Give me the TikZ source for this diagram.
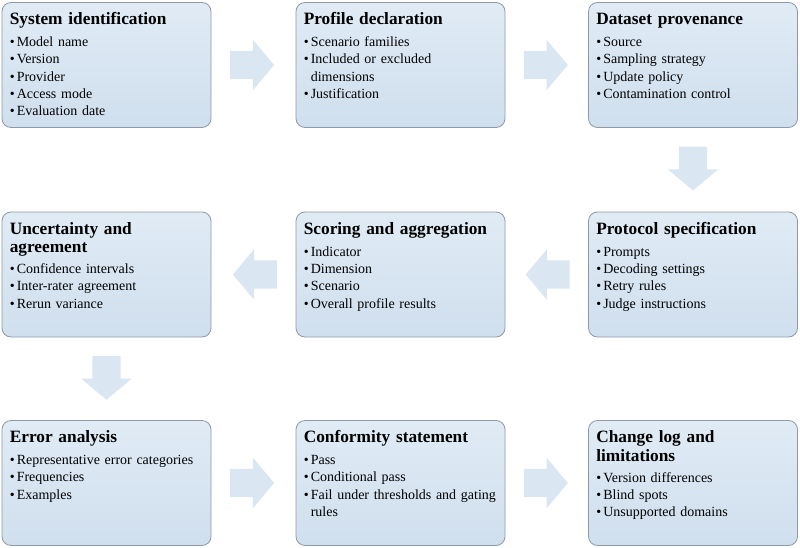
\documentclass[tikz,border=0pt]{standalone}
\usepackage{fontspec}
\setmainfont{Liberation Serif}
\usetikzlibrary{shapes.arrows}
\definecolor{boxtop}{HTML}{E0EBF5}
\definecolor{boxbot}{HTML}{D0DFEE}
\definecolor{boxedge}{HTML}{8E9AA8}
\definecolor{arrowfill}{HTML}{DAE6F2}
\newcommand{\bul}{\makebox[7pt][l]{\textbullet}}
\tikzset{
  stagebox/.style={draw=boxedge, line width=0.8pt, rounded corners=9pt, top color=boxtop, bottom color=boxbot,
    minimum width=209pt, minimum height=125pt, inner sep=0pt},
  stagetitle/.style={anchor=base west, inner sep=0pt, text width=200pt, align=left,
    font=\fontsize{17.3}{18.5}\selectfont\bfseries},
  stagelist/.style={anchor=base west, inner sep=0pt, text width=200pt, align=left,
    font=\fontsize{14}{17.3}\selectfont},
  blockarrow/.style={single arrow, fill=arrowfill, draw=none, inner xsep=0pt, inner ysep=14pt,
    single arrow head extend=11pt, single arrow tip angle=100, minimum height=44pt, anchor=tail, pos=0.22}
}
\begin{document}
\begin{tikzpicture}[x=1pt, y=-1pt]
  \useasboundingbox (0,0) rectangle (800,548);
  % row 1
  \node[stagebox] (sys) at (106.5,65) {};
  \node[stagebox] (prof) at (400.5,65) {};
  \node[stagebox] (data) at (693,65) {};
  % row 2
  \node[stagebox] (unc) at (106.5,274.5) {};
  \node[stagebox] (score) at (400.5,274.5) {};
  \node[stagebox] (proto) at (693,274.5) {};
  % row 3
  \node[stagebox] (err) at (106.5,483) {};
  \node[stagebox] (conf) at (400.5,483) {};
  \node[stagebox] (log) at (693,483) {};

  \node[stagetitle] at ([xshift=8pt,yshift=-22.5pt]sys.north west) {System identification};
  \node[stagelist] at ([xshift=8pt,yshift=-44.5pt]sys.north west) {\bul Model name\\ \bul Version\\ \bul Provider\\ \bul Access mode\\ \bul Evaluation date};
  \node[stagetitle] at ([xshift=8pt,yshift=-22.5pt]prof.north west) {Profile declaration};
  \node[stagelist] at ([xshift=8pt,yshift=-44.5pt]prof.north west) {\bul Scenario families\\ \bul Included or excluded\\ \hspace*{7pt}dimensions\\ \bul Justification};
  \node[stagetitle] at ([xshift=8pt,yshift=-22.5pt]data.north west) {Dataset provenance};
  \node[stagelist] at ([xshift=8pt,yshift=-44.5pt]data.north west) {\bul Source\\ \bul Sampling strategy\\ \bul Update policy\\ \bul Contamination control};

  \node[stagetitle] at ([xshift=8pt,yshift=-22.5pt]unc.north west) {Uncertainty and\\ agreement};
  \node[stagelist] at ([xshift=8pt,yshift=-62pt]unc.north west) {\bul Confidence intervals\\ \bul Inter-rater agreement\\ \bul Rerun variance};
  \node[stagetitle] at ([xshift=8pt,yshift=-22.5pt]score.north west) {Scoring and aggregation};
  \node[stagelist] at ([xshift=8pt,yshift=-44.5pt]score.north west) {\bul Indicator\\ \bul Dimension\\ \bul Scenario\\ \bul Overall profile results};
  \node[stagetitle] at ([xshift=8pt,yshift=-22.5pt]proto.north west) {Protocol specification};
  \node[stagelist] at ([xshift=8pt,yshift=-44.5pt]proto.north west) {\bul Prompts\\ \bul Decoding settings\\ \bul Retry rules\\ \bul Judge instructions};

  \node[stagetitle] at ([xshift=8pt,yshift=-22.5pt]err.north west) {Error analysis};
  \node[stagelist] at ([xshift=8pt,yshift=-44.5pt]err.north west) {\bul Representative error categories\\ \bul Frequencies\\ \bul Examples};
  \node[stagetitle] at ([xshift=8pt,yshift=-22.5pt]conf.north west) {Conformity statement};
  \node[stagelist] at ([xshift=8pt,yshift=-44.5pt]conf.north west) {\bul Pass\\ \bul Conditional pass\\ \bul Fail under thresholds and gating\\ \hspace*{7pt}rules};
  \node[stagetitle] at ([xshift=8pt,yshift=-22.5pt]log.north west) {Change log and\\ limitations};
  \node[stagelist] at ([xshift=8pt,yshift=-62pt]log.north west) {\bul Version differences\\ \bul Blind spots\\ \bul Unsupported domains};

  % flow arrows
  \path (sys) -- (prof) node[blockarrow] {};
  \path (prof) -- (data) node[blockarrow] {};
  \path (data) -- (proto) node[blockarrow, rotate=-90] {};
  \path (proto) -- (score) node[blockarrow, rotate=180] {};
  \path (score) -- (unc) node[blockarrow, rotate=180] {};
  \path (unc) -- (err) node[blockarrow, rotate=-90] {};
  \path (err) -- (conf) node[blockarrow] {};
  \path (conf) -- (log) node[blockarrow] {};
\end{tikzpicture}
\end{document}
